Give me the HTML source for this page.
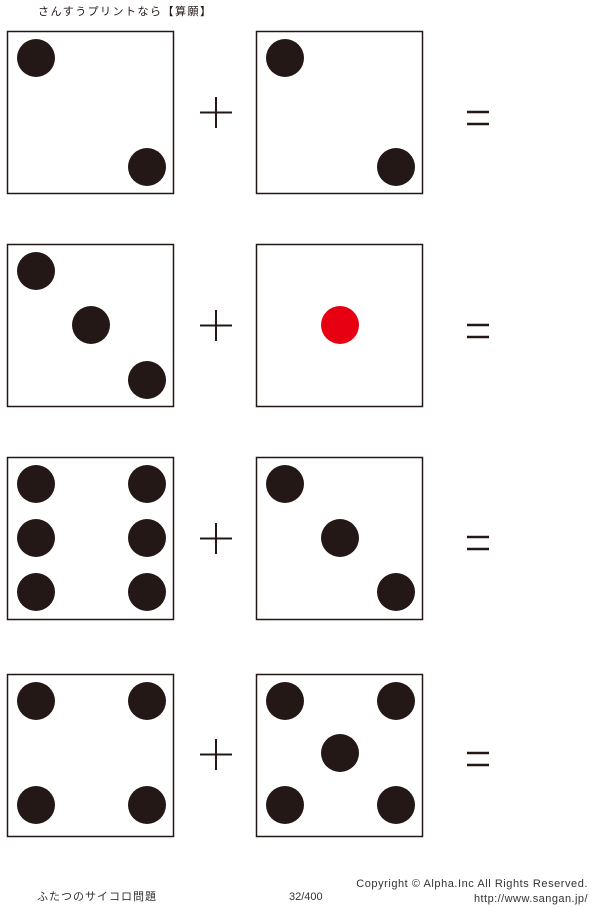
<!DOCTYPE html>
<html><head><meta charset="utf-8"><style>
html,body{margin:0;padding:0;background:#fff;width:600px;height:907px;overflow:hidden}
svg{display:block}
text{font-family:"Liberation Sans","Noto Sans CJK JP",sans-serif;fill:#231815}
</style></head><body>
<svg width="600" height="907" viewBox="0 0 600 907" xmlns="http://www.w3.org/2000/svg">
<text x="38" y="15" font-size="11" letter-spacing="1.5">さんすうプリントなら【算願】</text>
<g fill="none" stroke="#231815" stroke-width="1.5">
<rect x="7.5" y="31.5" width="166" height="162"/>
<rect x="256.5" y="31.5" width="166" height="162"/>
<rect x="7.5" y="244.5" width="166" height="162"/>
<rect x="256.5" y="244.5" width="166" height="162"/>
<rect x="7.5" y="457.5" width="166" height="162"/>
<rect x="256.5" y="457.5" width="166" height="162"/>
<rect x="7.5" y="674.5" width="166" height="162"/>
<rect x="256.5" y="674.5" width="166" height="162"/>
</g>
<g fill="#231815">
<circle cx="36" cy="58" r="19"/><circle cx="147" cy="167" r="19"/>
<circle cx="285" cy="58" r="19"/><circle cx="396" cy="167" r="19"/>
<circle cx="36" cy="271" r="19"/><circle cx="91" cy="325" r="19"/><circle cx="147" cy="380" r="19"/>
<circle cx="36" cy="484" r="19"/><circle cx="147" cy="484" r="19"/>
<circle cx="36" cy="538" r="19"/><circle cx="147" cy="538" r="19"/>
<circle cx="36" cy="592" r="19"/><circle cx="147" cy="592" r="19"/>
<circle cx="285" cy="484" r="19"/><circle cx="340" cy="538" r="19"/><circle cx="396" cy="592" r="19"/>
<circle cx="36" cy="701" r="19"/><circle cx="147" cy="701" r="19"/>
<circle cx="36" cy="805" r="19"/><circle cx="147" cy="805" r="19"/>
<circle cx="285" cy="701" r="19"/><circle cx="396" cy="701" r="19"/>
<circle cx="340" cy="753" r="19"/>
<circle cx="285" cy="805" r="19"/><circle cx="396" cy="805" r="19"/>
</g>
<circle cx="340" cy="325" r="19" fill="#e60012"/>
<g stroke="#231815" stroke-width="2">
<path d="M200 112.5H232M216 97V128"/>
<path d="M200 325.5H232M216 310V341"/>
<path d="M200 538.5H232M216 523V554"/>
<path d="M200 754.5H232M216 739V770"/>
</g>
<g stroke="#231815" stroke-width="2.6">
<path d="M467 112H489M467 124H489"/>
<path d="M467 325H489M467 337H489"/>
<path d="M467 537H489M467 549H489"/>
<path d="M467 753H489M467 765H489"/>
</g>
<g style="fill:#333">
<text x="37" y="900" font-size="11" letter-spacing="1" style="fill:#333">ふたつのサイコロ問題</text>
<text x="289" y="900" font-size="11" style="fill:#333">32/400</text>
<text x="588" y="887" font-size="11" text-anchor="end" letter-spacing="0.55" style="fill:#333">Copyright ©  Alpha.Inc All Rights Reserved.</text>
<text x="588" y="902" font-size="11" text-anchor="end" letter-spacing="0.45" style="fill:#333">http://www.sangan.jp/</text>
</g>
</svg>
</body></html>
